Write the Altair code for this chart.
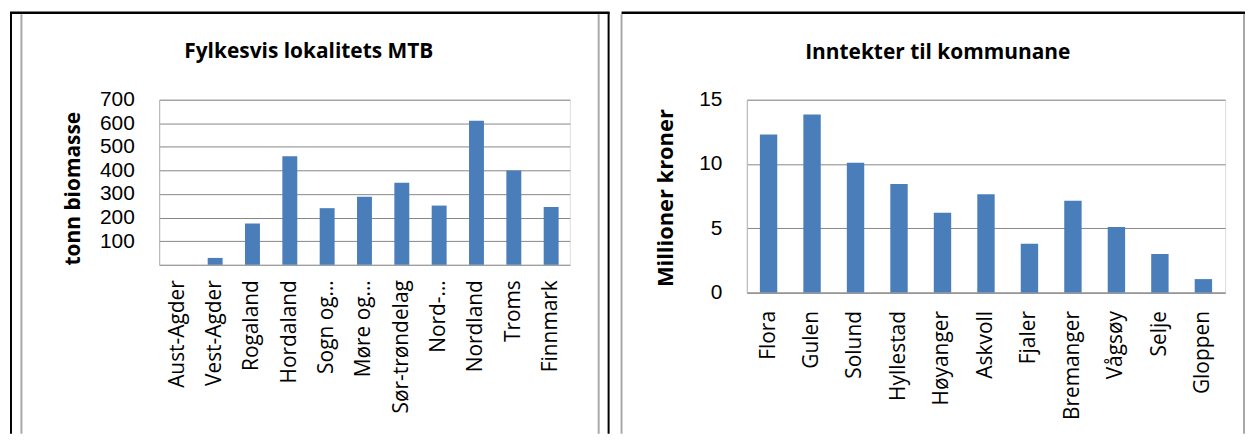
import altair as alt
import pandas as pd

# ---- data ----
fylke = ["Aust-Agder", "Vest-Agder", "Rogaland", "Hordaland", "Sogn og…", "Møre og…",
         "Sør-trøndelag", "Nord-…", "Nordland", "Troms", "Finnmark"]
mtb = [0, 29, 175, 460, 240, 288, 348, 251, 611, 400, 245]

kommune = ["Flora", "Gulen", "Solund", "Hyllestad", "Høyanger", "Askvoll", "Fjaler",
           "Bremanger", "Vågsøy", "Selje", "Gloppen"]
inntekt = [12.3, 13.85, 10.1, 8.45, 6.2, 7.65, 3.8, 7.15, 5.1, 3.0, 1.05]

left_ticks = [100, 200, 300, 400, 500, 600, 700]
right_ticks = [0, 5, 10, 15]

title_left = "Fylkesvis lokalitets MTB"
title_right = "Inntekter til kommunane"
ytitle_left = "tonn biomasse"
ytitle_right = "Millioner kroner"

BLUE = "#4a7ebb"
GRID = "#868686"
FONT = "Open Sans"
NUMFONT = "Liberation Sans"

dfA = pd.DataFrame({"fylke": fylke, "mtb": mtb})
dfB = pd.DataFrame({"kommune": kommune, "inntekt": inntekt})
dummy = pd.DataFrame({"d": [0]})


def vline(x, y1, y2, color, w):
    return alt.Chart(dummy).mark_rule(color=color, strokeWidth=w).encode(
        x=alt.value(x), y=alt.value(y1), y2=alt.value(y2))


def hline(x1, x2, y, color, w):
    return alt.Chart(dummy).mark_rule(color=color, strokeWidth=w).encode(
        x=alt.value(x1), x2=alt.value(x2), y=alt.value(y))


def title_text(txt, x, y):
    return alt.Chart(dummy).mark_text(
        text=txt, font=FONT, fontSize=21, fontWeight="bold", align="center",
        baseline="alphabetic", color="#000000").encode(x=alt.value(x), y=alt.value(y))


def xaxis(pad):
    return alt.Axis(title=None, labelAngle=-90, labelFont=FONT, labelFontSize=21,
                    labelColor="#000000", labelPadding=pad, ticks=False,
                    domainColor=GRID, domainWidth=1, grid=False, labelLimit=300,
                    labelOverlap=False)


def yaxis(values, title, tx, ty, lsize, tsize):
    return alt.Axis(values=values, title=title, titleFont=FONT, titleFontSize=tsize,
                    titleFontWeight="bold", titleColor="#000000", titleX=tx, titleY=ty,
                    titleBaseline="alphabetic", titleAngle=270,
                    labelFont=NUMFONT, labelFontSize=lsize, labelColor="#000000",
                    labelPadding=25, ticks=False, gridColor=GRID, gridWidth=1,
                    domainColor="#b4b4b4", labelOverlap=False)


band = alt.Scale(paddingInner=0.6, paddingOuter=0.3)

# ---- left chart ----
barsA = alt.Chart(dfA).mark_bar(color=BLUE).encode(
    x=alt.X("fylke:N", sort=fylke, scale=band, axis=xaxis(15)),
    y=alt.Y("mtb:Q", scale=alt.Scale(domain=[0, 700], nice=False),
            axis=yaxis(left_ticks, ytitle_left, -80, 89, 21, 21)),
)
BOT = 336
chartA = alt.layer(
    barsA,
    vline(-149, -88, BOT, "#000000", 2),
    vline(-138.5, -86, BOT, "#a8a8a8", 2),
    vline(442, -86, BOT, "#a8a8a8", 2),
    vline(452, -88, BOT, "#000000", 2),
    hline(-150, 453, -87.5, "#000000", 2.5),
    title_text(title_left, 150.5, -42),
).properties(width=413, height=166)

# ---- right chart ----
barsB = alt.Chart(dfB).mark_bar(color=BLUE).encode(
    x=alt.X("kommune:N", sort=kommune, scale=band, axis=xaxis(18)),
    y=alt.Y("inntekt:Q", scale=alt.Scale(domain=[0, 15], nice=False),
            axis=yaxis(right_ticks, ytitle_right, -75, 98.5, 21, 22)),
)
chartB = alt.layer(
    barsB,
    vline(-126, -86, BOT, "#a8a8a8", 2),
    vline(500, -86, BOT, "#a8a8a8", 2),
    hline(-126, 501, -87.5, "#000000", 2.5),
    title_text(title_right, 192, -41.3),
).properties(width=481, height=194)

chart = alt.hconcat(chartA, chartB, spacing=8).properties(
    padding={"left": 0, "top": 1, "right": 0, "bottom": 0}
).configure_view(strokeWidth=0).configure(background="white")

chart.save("out.html", embed_options={"renderer": "svg", "actions": False})
